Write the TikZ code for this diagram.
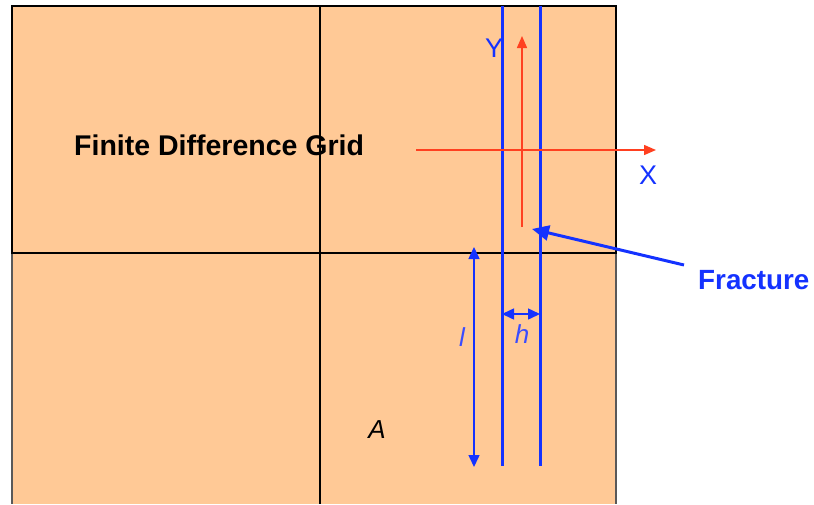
\documentclass[tikz,border=0pt]{standalone}
\usepackage{fontspec}
\setmainfont{Liberation Sans}
\usetikzlibrary{arrows.meta}
\definecolor{gridfill}{HTML}{FFC996}
\definecolor{fblue}{HTML}{1432FF}
\definecolor{lblue}{HTML}{3A4CFF}
\definecolor{axred}{HTML}{FF4020}
\tikzset{
  fracline/.style={fblue, line width=3pt},
  axisarrow/.style={axred, line width=1.5pt, -{Triangle[length=12pt,width=10pt]}},
  dimarrow/.style={fblue, line width=1.5pt, {Triangle[length=12pt,width=11pt]}-{Triangle[length=12pt,width=11pt]}},
  bigtext/.style={font=\fontsize{28.5}{30}\selectfont\bfseries, inner sep=0pt},
  fractext/.style={fblue, font=\fontsize{27.8}{30}\selectfont\bfseries, inner sep=0pt},
  axlabel/.style={fblue, font=\fontsize{27}{30}\selectfont, inner sep=0pt},
  itlabel/.style={lblue, font=\fontsize{26}{30}\selectfont\itshape, inner sep=0pt},
}
\begin{document}
\begin{tikzpicture}[x=1pt,y=-1pt]
\useasboundingbox (0,0) rectangle (814,504);
\fill[gridfill] (12,6) rectangle (616,504);
\draw[black!65, line width=2pt] (12,253) -- (12,504) (616,253) -- (616,504);
\draw[black, line width=1.4pt] (320,6) -- (320,504);
\draw[black, line width=2.5pt] (12,6) rectangle (616,253);
% fracture walls
\coordinate (w1t) at (502,6);
\coordinate (w1b) at (502,466);
\coordinate (w2t) at (540,6);
\coordinate (w2b) at (540,466);
\draw[fracline] (w1t) -- (w1b);
\draw[fracline] (w2t) -- (w2b);
% axes
\coordinate (xs) at (416,150);
\coordinate (xe) at (656,150);
\coordinate (ys) at (522,227);
\coordinate (ye) at (522,36);
\draw[axisarrow] (xs) -- (xe);
\draw[axisarrow] (ys) -- (ye);
\node[axlabel] (xl) at (648,175) {X};
\node[axlabel] (yl) at (494,48) {Y};
% title
\node[bigtext, anchor=base west] (title) at (74,155) {Finite Difference Grid};
% fracture label
\node[fractext, anchor=base west] (frac) at (698,289) {Fracture};
\coordinate (ftail) at (684,265);
\coordinate (ftip) at (532,229);
\draw[fblue, line width=3pt, -{Triangle[length=17pt,width=15pt]}] (ftail) -- (ftip);
% dimensions
\coordinate (lt) at (474,247);
\coordinate (lb) at (474,467);
\draw[dimarrow] (lt) -- (lb);
\node[itlabel] (ll) at (462,337) {l};
\coordinate (hl) at (502,314);
\coordinate (hr) at (540,314);
\draw[dimarrow] (hl) -- (hr);
\node[itlabel] (hh) at (522,334) {h};
\node[itlabel, black] (aa) at (377,430) {A};
\end{tikzpicture}
\end{document}
